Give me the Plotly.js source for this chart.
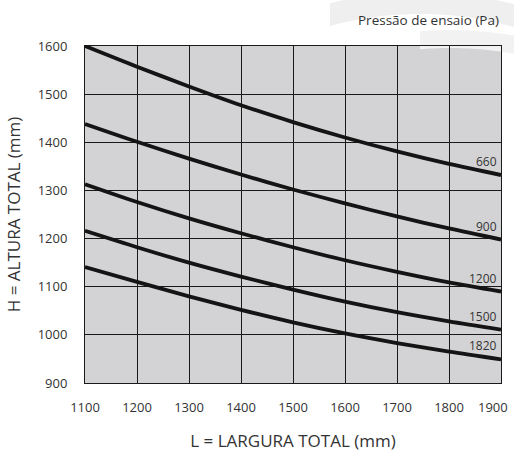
<!DOCTYPE html>
<html><head><meta charset="utf-8">
<script src="https://cdn.plot.ly/plotly-3.0.1.min.js"></script>
<style>html,body{margin:0;padding:0;background:#fff}#chart{width:514px;height:459px}</style>
</head><body><div id="chart"></div>
<script>
const widths = [1100,1200,1300,1400,1500,1600,1700,1800,1900];
const pressures = ['660','900','1200','1500','1820'];
const h660  = [1600,1557,1516,1477,1442,1410,1381,1355,1332];
const h900  = [1438,1401,1366,1333,1302,1273,1246,1221,1198];
const h1200 = [1313,1276,1242,1211,1182,1155,1131,1109,1090];
const h1500 = [1216,1182,1150,1121,1094,1069,1047,1028,1011];
const h1820 = [1141,1110,1080,1052,1026,1003,983,965,949];
const series = [h660,h900,h1200,h1500,h1820];
const xTicks = [1100,1200,1300,1400,1500,1600,1700,1800,1900];
const xTickText = ['1100','1200','1300','1400','1500','1600','1700','1800','1900'];
const yTicks = [900,1000,1100,1200,1300,1400,1500,1600];

const FONT = 'Open Sans';
const TXT = '#333';

const traces = series.map((ys,i)=>({
  x: widths, y: ys, type:'scatter', mode:'lines',
  line:{color:'#141414', width:3.8, shape:'spline', smoothing:0.8},
  name: pressures[i], hoverinfo:'skip'
}));
const annotations = series.map((ys,i)=>({
  x: widths[widths.length-1], y: ys[ys.length-1], xref:'x', yref:'y',
  text: pressures[i], showarrow:false, xanchor:'right', yanchor:'bottom',
  xshift:-2, yshift:3, font:{family:FONT, size:12, color:TXT}
}));
annotations.push({
  x:1, y:1, xref:'paper', yref:'paper', xanchor:'right', yanchor:'bottom',
  yshift:15, xshift:0, text:'Pressão de ensaio (Pa)', showarrow:false,
  font:{family:FONT, size:13.5, color:TXT}
});
// last x tick label drawn right-anchored at its tick so it stays inside the page
const lastI = xTicks.length-1;
annotations.push({
  x: xTicks[lastI], y:0, xref:'x', yref:'paper', xanchor:'right', yanchor:'middle',
  xshift:9, yshift:-24, text: xTickText[lastI], showarrow:false,
  font:{family:FONT, size:13, color:TXT}
});
const xTickLabels = xTickText.map((t,i)=> i===lastI ? '' : t);

// decorative watermark arcs (pixel -> paper helper)
const toPx = (x)=>((x-85)/416).toFixed(4);
const toPy = (y)=>((383-y)/337).toFixed(4);
function band(cx, cy, rOut, rIn, xFrom, xTo){
  const pts = [];
  const n = 30;
  for(let k=0;k<=n;k++){ const x = xFrom+(xTo-xFrom)*k/n; pts.push([x, cy-Math.sqrt(rOut*rOut-(x-cx)*(x-cx))]); }
  for(let k=n;k>=0;k--){ const x = xFrom+(xTo-xFrom)*k/n; pts.push([x, cy-Math.sqrt(rIn*rIn-(x-cx)*(x-cx))]); }
  return pts.map((p,i)=>(i===0?'M ':'L ')+toPx(p[0])+' '+toPy(p[1])).join(' ')+' Z';
}
const bandA = band(420, 360, 368, 346, 330, 514);
const bandB = band(450, 400, 370, 352, 420, 514);

const layout = {
  width:514, height:459,
  margin:{l:85, r:13, t:46, b:76},
  paper_bgcolor:'#fff', plot_bgcolor:'#d3d3d5',
  showlegend:false,
  font:{family:FONT, color:TXT},
  shapes:[
    {type:'path', xref:'paper', yref:'paper', path:bandA, line:{width:0}, fillcolor:'#efefef', layer:'below'},
    {type:'path', xref:'paper', yref:'paper', path:bandB, line:{width:0}, fillcolor:'#f2f2f2', layer:'below'}
  ],
  xaxis:{
    range:[1100,1900], tickvals:xTicks, ticktext:xTickLabels, ticks:'', ticklabelstandoff:12,
    showgrid:true, gridcolor:'#1a1a1a', gridwidth:1, zeroline:false,
    showline:true, linecolor:'#1a1a1a', linewidth:1, mirror:true,
    tickfont:{family:FONT, size:13, color:TXT},
    title:{text:'L = LARGURA TOTAL (mm)', standoff:20, font:{family:FONT, size:17, color:TXT}}
  },
  yaxis:{
    range:[900,1600], tickvals:yTicks, ticks:'', ticklabelstandoff:14,
    showgrid:true, gridcolor:'#1a1a1a', gridwidth:1, zeroline:false,
    showline:true, linecolor:'#1a1a1a', linewidth:1, mirror:true,
    tickfont:{family:FONT, size:13, color:TXT},
    title:{text:'H = ALTURA TOTAL (mm)', standoff:12, font:{family:FONT, size:17, color:TXT}}
  },
  annotations: annotations
};
Plotly.newPlot('chart', traces, layout, {displayModeBar:false, staticPlot:true});
</script></body></html>
